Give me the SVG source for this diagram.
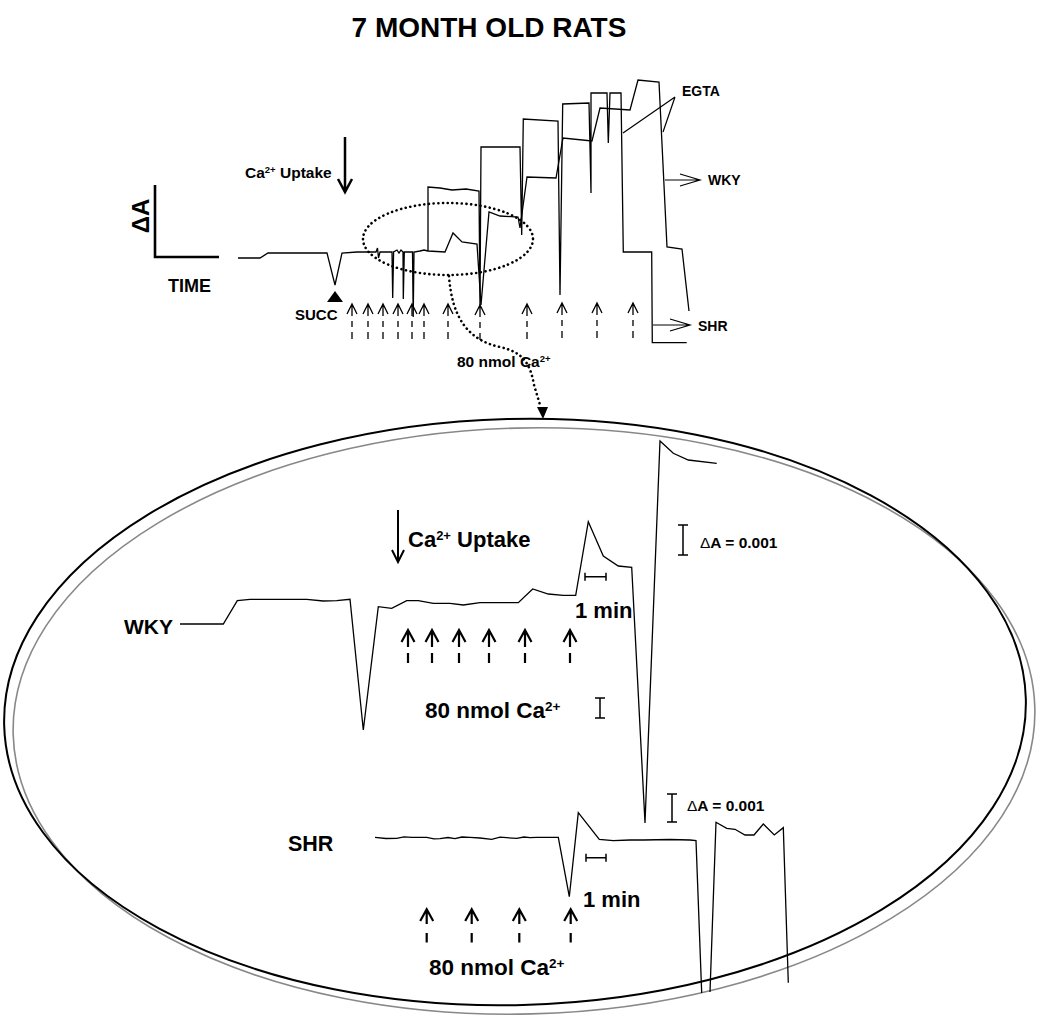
<svg xmlns="http://www.w3.org/2000/svg" width="1050" height="1028" viewBox="0 0 1050 1028">
<style>
  .t { font-family: "Liberation Sans", Arial, Helvetica, sans-serif; font-weight: bold; fill: #000; }
  .n { font-weight: normal; }
  .tr { fill: none; stroke: #000; stroke-width: 1.3; stroke-linejoin: miter; }
  .sa { fill: none; stroke: #000; stroke-width: 1.3; }
  .ba { fill: none; stroke: #000; stroke-width: 2.2; }
  .bar { fill: none; stroke: #000; stroke-width: 1.5; }
  .dots { fill: none; stroke: #000; stroke-width: 2.6; stroke-linecap: round; stroke-dasharray: 0.1 4.6; }
</style>
<rect width="1050" height="1028" fill="#fff"/>

<g id="title"><text class="t" x="489" y="37" font-size="28" text-anchor="middle">7 MONTH OLD RATS</text></g>

<!-- top panel -->
<g id="top-scale">
  <path d="M155,185 V257 H219" fill="none" stroke="#000" stroke-width="2.6"/>
  <text class="t" transform="translate(149,216) rotate(-90)" font-size="24" text-anchor="middle">ΔA</text>
  <text class="t" x="168" y="292" font-size="18">TIME</text>
</g>

<g id="top-uptake">
  <text class="t" x="245" y="178" font-size="15.5">Ca<tspan font-size="9.5" dy="-5">2+</tspan><tspan dy="5"> Uptake</tspan></text>
  <path d="M345,137 V191 M338,179 L345,192 L352,179" fill="none" stroke="#000" stroke-width="2.5"/>
</g>

<g id="top-succ">
  <polygon points="335,291 327,302 343,302" fill="#000"/>
  <text class="t" x="295" y="320" font-size="15">SUCC</text>
</g>

<g id="top-traces">
  <polyline class="tr" points="238,258 260,258 268,253 300,253 327,253 335,285 342,253 357,252 376,252 377.5,248 378.5,258 380,252 392,252 392.7,298 393.6,252 397,250 399,253 401,250 403,252 403.3,299 404.3,252 412.5,252 413.2,317 414,252 420,251 424,250 428,251 445,252 453,233 462,242 477,244 481,305 489,212 500,216 518,217 520,228 527,177 556,178 563,138 592,141 600,108 630,110 638,80 659,82 667,247 682,249 689,311"/>
  <polyline class="tr" points="428,251 428,187 440,188 452,190 466,189 479,191 480,305 481,147 520,147 521.7,235 523.3,119 558,121 560,295 562.7,104 589,103 591,193 591,93 607,93 608.3,143 610,93 621,93 623.3,252 651.7,252 652.3,342.7 686.7,342.7"/>
</g>

<g id="top-labels">
  <text class="t" x="682" y="96" font-size="14">EGTA</text>
  <path d="M675,97 L623,133 M675,97 L663,132" fill="none" stroke="#000" stroke-width="1.2"/>
  <path d="M665,180 H700 M680,174 L700,180 L680,186" fill="none" stroke="#000" stroke-width="1.2"/>
  <text class="t" x="708" y="185" font-size="14">WKY</text>
  <path d="M653,325 H690 M670,319 L690,325 L670,331" fill="none" stroke="#000" stroke-width="1.2"/>
  <text class="t" x="698" y="331" font-size="14">SHR</text>
  <text class="t" x="457" y="367" font-size="15.5">80 nmol Ca<tspan font-size="9.5" dy="-5">2+</tspan></text>
</g>

<g id="top-arrows">
  <path class="sa" d="M347,314 L352,304 L357,314 M352,304 V316 M352,321 V327 M352,332 V339"/>
  <path class="sa" d="M363,314 L368,304 L373,314 M368,304 V316 M368,321 V327 M368,332 V339"/>
  <path class="sa" d="M378,314 L383,304 L388,314 M383,304 V316 M383,321 V327 M383,332 V339"/>
  <path class="sa" d="M393,314 L398,304 L403,314 M398,304 V316 M398,321 V327 M398,332 V339"/>
  <path class="sa" d="M407,314 L412,304 L417,314 M412,304 V316 M412,321 V327 M412,332 V339"/>
  <path class="sa" d="M419,314 L424,304 L429,314 M424,304 V316 M424,321 V327 M424,332 V339"/>
  <path class="sa" d="M443,314 L448,304 L453,314 M448,304 V316 M448,321 V327 M448,332 V339"/>
  <path class="sa" d="M475,315 L480,305 L485,315 M480,305 V317 M480,322 V328 M480,333 V340"/>
  <path class="sa" d="M522,314 L527,304 L532,314 M527,304 V316 M527,321 V327 M527,332 V339"/>
  <path class="sa" d="M557,313 L562,303 L567,313 M562,303 V315 M562,320 V326 M562,331 V338"/>
  <path class="sa" d="M592,313 L597,303 L602,313 M597,303 V315 M597,320 V326 M597,331 V338"/>
  <path class="sa" d="M628,313 L633,303 L638,313 M633,303 V315 M633,320 V326 M633,331 V338"/>
</g>

<!-- zoom ellipse -->
<g id="zoom-ellipse">
  <ellipse cx="515" cy="712" rx="511" ry="293" transform="translate(9 9) rotate(-1.5 515 712)" fill="none" stroke="#888" stroke-width="1.6"/>
  <ellipse cx="515" cy="712" rx="511" ry="293" transform="rotate(-1.5 515 712)" fill="none" stroke="#000" stroke-width="2"/>
</g>

<g id="connectors">
  <ellipse class="dots" cx="448" cy="239" rx="85" ry="36"/>
  <path class="dots" d="M449,276 C452,318 468,340 500,347 C522,352 530,362 534,385 L540,405"/>
  <polygon points="537,407 548,407 543,419" fill="#000"/>
</g>

<!-- WKY inset -->
<g id="wky-inset">
  <text class="t" x="124" y="634" font-size="21">WKY</text>
  <polyline class="tr" points="180,624 223.3,624 237.3,600.7 250,599.3 306.7,599.3 323.3,601 336.7,600.7 350,599.3 363.3,730 378.3,606.7 391.7,608.3 406.7,600.7 418.3,600.7 433.3,603.3 450,603.3 463.3,605 480,602.7 518.3,602.7 532.7,589 548.3,594 563.3,595.3 575.7,595.3 588.3,521.7 603.3,556 618.3,566 631.7,567.3 645,823 660,441 673.3,453.3 688.3,460 716.7,463.3"/>
  <path d="M398,510 V561 M392,550 L398,562 L404,550" fill="none" stroke="#000" stroke-width="2"/>
  <text class="t" x="408" y="547" font-size="22">Ca<tspan font-size="13" dy="-7">2+</tspan><tspan dy="7"> Uptake</tspan></text>
  <path class="ba" d="M401.5,642 L408,630 L414.5,642 M408,630 V647 M408,653 V663"/>
  <path class="ba" d="M425.5,642 L432,630 L438.5,642 M432,630 V647 M432,653 V663"/>
  <path class="ba" d="M452.5,642 L459,630 L465.5,642 M459,630 V647 M459,653 V663"/>
  <path class="ba" d="M482.5,642 L489,630 L495.5,642 M489,630 V647 M489,653 V663"/>
  <path class="ba" d="M518.5,642 L525,630 L531.5,642 M525,630 V647 M525,653 V663"/>
  <path class="ba" d="M563.5,642 L570,630 L576.5,642 M570,630 V647 M570,653 V663"/>
  <text class="t" x="425" y="718" font-size="22.5">80 nmol Ca<tspan font-size="13.5" dy="-7">2+</tspan></text>
  <path class="bar" d="M585,572.7 V580.7 M585,576.7 H606 M606,572.7 V580.7"/>
  <text class="t" x="575" y="618" font-size="22">1 min</text>
  <path class="bar" d="M678,525 H688 M683,525 V555 M678,555 H688"/>
  <text class="t" x="700" y="548" font-size="15.5"><tspan class="n">Δ</tspan>A = 0.001</text>
  <path class="bar" d="M595,698 H605 M600,698 V718 M595,718 H605"/>
</g>

<!-- SHR inset -->
<g id="shr-inset">
  <text class="t" x="288" y="851" font-size="21.5">SHR</text>
  <polyline class="tr" points="375,837.3 386,838.5 396.7,838.3 404,836.8 411.7,837.3 426.7,837.3 434,838.9 440,838.7 448,837.5 455,838.7 462,837 470,837.3 480,838 491.7,839.3 500,837.2 506.7,837.7 516.7,838.3 524,837 530,837.7 536.7,837.3 558.3,837.3 569.3,896.7 578.3,812.7 599.3,839.3 613.3,840.7 630,840 643.3,840 670,839.5 690,840 696,840.7 701.7,993"/>
  <polyline class="tr" points="710,992 716,822.3 726.7,828.3 735,829.3 745,835 754,835 763.3,824 774.3,835 783.3,827.7 788.3,982.7"/>
  <path class="ba" d="M420.2,921 L426.7,909.3 L433.2,921 M426.7,909.3 V924 M426.7,933 V942.5"/>
  <path class="ba" d="M465.2,921 L471.7,909.3 L478.2,921 M471.7,909.3 V924 M471.7,933 V942.5"/>
  <path class="ba" d="M512.8,921 L519.3,909.3 L525.8,921 M519.3,909.3 V924 M519.3,933 V942.5"/>
  <path class="ba" d="M564.2,921 L570.7,909.3 L577.2,921 M570.7,909.3 V924 M570.7,933 V942.5"/>
  <text class="t" x="429" y="975" font-size="22.5">80 nmol Ca<tspan font-size="13.5" dy="-7">2+</tspan></text>
  <path class="bar" d="M586,853.7 V861.7 M586,857.7 H606 M606,853.7 V861.7"/>
  <text class="t" x="583" y="907" font-size="22">1 min</text>
  <path class="bar" d="M667,794 H677 M672,794 V822 M667,822 H677"/>
  <text class="t" x="687" y="811" font-size="15.5"><tspan class="n">Δ</tspan>A = 0.001</text>
</g>
</svg>
